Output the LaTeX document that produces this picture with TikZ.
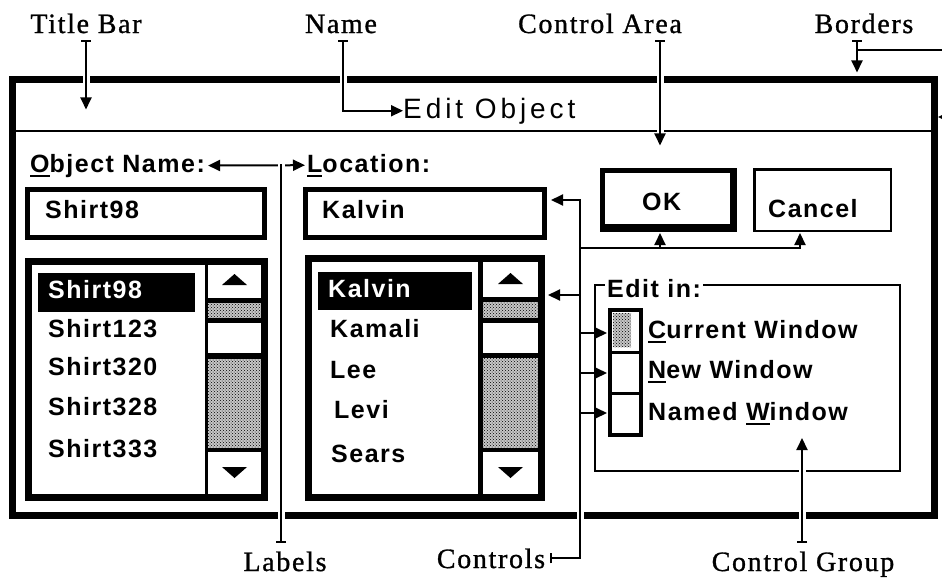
\documentclass[tikz,border=0pt]{standalone}
\usepackage{fontspec}
\setmainfont{Liberation Serif}
\newfontfamily\calloutfont[LetterSpace=6,FakeBold=1]{Liberation Serif}
\newfontfamily\guifont[LetterSpace=6]{Liberation Sans}
\newfontfamily\titlefont[LetterSpace=14]{Liberation Sans}
\usetikzlibrary{arrows.meta,positioning,calc,patterns}

% underlined access key
\newcommand{\hotkey}[1]{\setbox0\hbox{#1}\rlap{\rule[-4.5pt]{\wd0}{2pt}}\box0}

\begin{document}
\begin{tikzpicture}[x=1pt,y=-1pt,
  callout/.style={font=\fontsize{28}{30}\selectfont\calloutfont, inner sep=0pt, anchor=base},
  gui/.style={font=\fontsize{25}{28}\selectfont\guifont\bfseries, inner sep=0pt, anchor=base west},
  sel/.style={gui, text=white},
  lead/.style={line width=2pt, -{Triangle[length=12pt,width=11pt]}},
  tick/.style={line width=2pt, {Bar[width=10pt]}-{Triangle[length=12pt,width=11pt]}},
  halo/.style={preaction={draw=white, line width=7pt, arrows=-}},
  stipple/.style={fill=black!22, postaction={pattern=crosshatch dots}}
]
  \clip (0,0) rectangle (942,579);
  \fill[white] (0,0) rectangle (942,579);

  % window and title bar
  \draw[line width=7pt] (12.5,79) rectangle (934,515);
  \draw[line width=2pt] (16,131) -- (930.5,131);
  \node[font=\fontsize{28}{30}\selectfont\titlefont, inner sep=0pt, anchor=base west]
    (title) at (403,118) {Edit Object};

  % field labels and text fields
  \node[gui] (objlbl) at (30,172) {\hotkey{O}bject Name:};
  \node[gui] (loclbl) at (307,172) {\hotkey{L}ocation:};
  \draw[line width=5pt] (27.5,189.5) rectangle (264.5,237.5);
  \node[gui] (objfld) at (45,218) {Shirt98};
  \draw[line width=5pt] (305.5,189.5) rectangle (544.5,237.5);
  \node[gui] (locfld) at (322,218) {Kalvin};

  % left list box
  \draw[line width=7pt] (28.5,261.5) rectangle (264.5,497.5);
  \fill (205,265) rectangle (261,494);
  \fill[white] (208,265) rectangle (261,298);
  \path[stipple] (208,303) rectangle (261,318);
  \fill[white] (208,323) rectangle (261,353);
  \path[stipple] (208,359) rectangle (261,448);
  \fill[white] (208,452) rectangle (261,494);
  \fill (222,285) -- (234.5,274) -- (247,285) -- cycle;
  \fill (222,467) -- (247,467) -- (234.5,478) -- cycle;
  \fill (38,273) rectangle (195,312);
  \node[sel] (shirta) at (48,298) {Shirt98};
  \foreach \txt/\yy in {Shirt123/337, Shirt320/375, Shirt328/415, Shirt333/457}
    \node[gui] at (48,\yy) {\txt};

  % middle list box
  \draw[line width=7pt] (308.5,258.5) rectangle (541.5,497.5);
  \fill (478,262) rectangle (538,494);
  \fill[white] (483,262) rectangle (538,297);
  \path[stipple] (483,302) rectangle (538,318);
  \fill[white] (483,323) rectangle (538,353);
  \path[stipple] (483,358) rectangle (538,448);
  \fill[white] (483,452) rectangle (538,494);
  \fill (498,284) -- (510.5,273) -- (523,284) -- cycle;
  \fill (498,467) -- (523,467) -- (510.5,478) -- cycle;
  \fill (318,272) rectangle (472,310);
  \node[sel] (kalvin) at (328,297) {Kalvin};
  \foreach \txt/\xx/\yy in {Kamali/330/337, Lee/330/378, Levi/334/418, Sears/331/462}
    \node[gui] at (\xx,\yy) {\txt};

  % buttons
  \fill (600,168) rectangle (737,232);
  \fill[white] (605,173) rectangle (730,224);
  \node[gui] (ok) at (642,210) {OK};
  \draw[line width=2.5pt] (754.25,169.25) rectangle (890.75,230.75);
  \node[gui] (cancel) at (768,217) {Cancel};

  % edit-in group
  \draw[line width=2pt] (595,285) rectangle (900,471);
  \node[gui, fill=white, inner xsep=2pt] (editin) at (605,297) {Edit in:};
  \path[stipple] (613,313) rectangle (631,347);
  \draw[line width=4pt] (610,310) rectangle (641,435);
  \draw[line width=3pt] (610,352) -- (641,352);
  \draw[line width=3pt] (610,393) -- (641,393);
  \node[gui] (curwin) at (648,338) {\hotkey{C}urrent Window};
  \node[gui] (newwin) at (648,378) {\hotkey{N}ew Window};
  \node[gui] (namwin) at (648,420) {Named \hotkey{W}indow};

  % callouts
  \node[callout] (tbar)  at (86,33)  {Title Bar};
  \node[callout] (nm)    at (341,33) {Name};
  \node[callout] (carea) at (600,33) {Control Area};
  \node[callout] (bord)  at (864,33) {Borders};
  \node[callout] (lbls)  at (285,571) {Labels};
  \node[callout] (ctrls) at (491,568) {Controls};
  \node[callout] (cgrp)  at (803,571) {Control Group};

  \coordinate (lblj)   at (281,164);
  \coordinate (ctrlj)  at (580,200);
  \coordinate (bordtip) at (938,117);

  \draw[tick, halo] ([yshift=-7pt]tbar.south) -- ++(0,69);
  \draw[tick, halo] ([xshift=2pt,yshift=-7pt]nm.south) |- (title.west);
  \draw[tick, halo] ([xshift=60pt,yshift=-7pt]carea.south) -- ++(0,105);
  \draw[tick] ([xshift=-7pt,yshift=-7pt]bord.south) -- ++(0,32);
  \draw[lead] ([xshift=-7pt,yshift=-17pt]bord.south) -| (965,117) -- (bordtip);

  \draw[line width=2pt, {Triangle[length=12pt,width=11pt]}-{Triangle[length=12pt,width=11pt]}]
    ([xshift=3pt]objlbl.east) -- ([xshift=-2pt]loclbl.west);
  \draw[line width=2pt, {Bar[width=10pt]}-, halo] ([xshift=-4pt,yshift=8pt]lbls.north) -- (lblj);

  \draw[line width=2pt, {Bar[width=10pt]}-{Triangle[length=12pt,width=11pt]}, halo]
    ([xshift=5pt]ctrls.east) -| (ctrlj) -- (551,200);
  \draw[lead] (580,295) -- (548,295);
  \draw[line width=2pt] (580,248) -- (800,248);
  \draw[lead] (660,249) -- (660,233);
  \draw[lead] (800,249) -- (800,233);
  \foreach \yy in {333,373,413}
    \draw[lead] (580,\yy) -- (607,\yy);

  \draw[tick, halo] ([xshift=-1pt,yshift=8pt]cgrp.north) -- (802,438);
\end{tikzpicture}
\end{document}
